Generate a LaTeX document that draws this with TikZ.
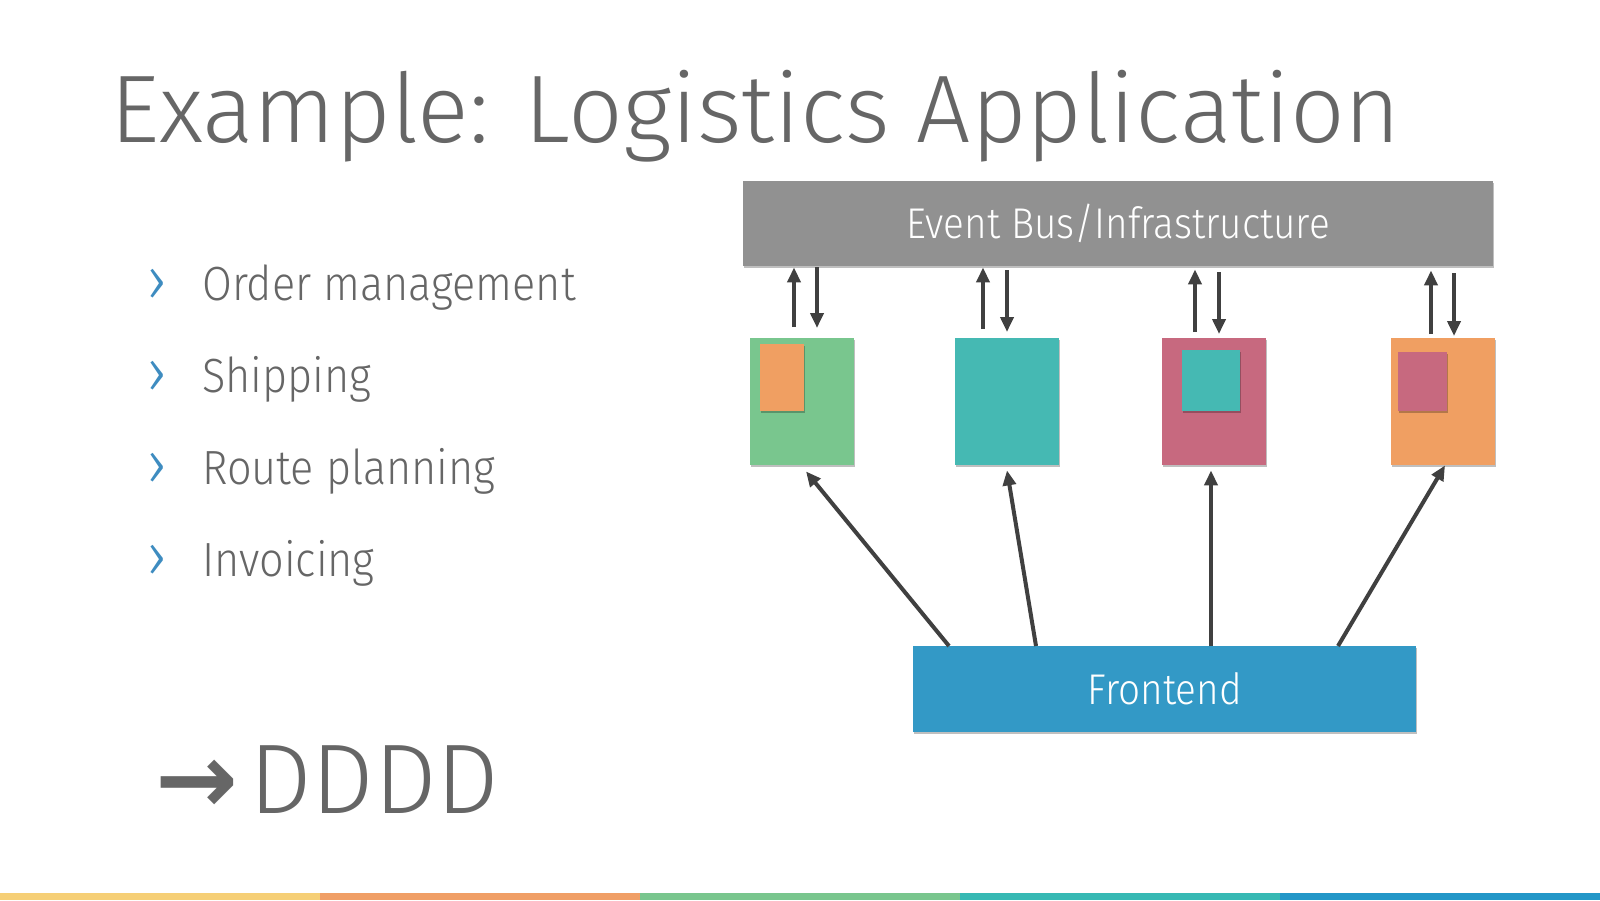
\documentclass[tikz,border=0pt]{standalone}
\usepackage{fontspec}
\setmainfont{Fira Sans}[UprightFont={* Light}]
\newfontfamily\firacond{Fira Sans}[UprightFont={* Light}, FakeStretch=0.9]
\newfontfamily\arrowfont{DejaVu Sans}
\usetikzlibrary{arrows.meta,shadows}
\definecolor{txtgray}{HTML}{666666}
\definecolor{busgray}{HTML}{919191}
\definecolor{cgreen}{HTML}{79C68E}
\definecolor{cteal}{HTML}{45B9B3}
\definecolor{cpink}{HTML}{C7697F}
\definecolor{corange}{HTML}{F09F62}
\definecolor{cblue}{HTML}{3399C6}
\definecolor{arrgray}{HTML}{404040}
\definecolor{bulblue}{HTML}{3E8CC0}
\definecolor{s1}{HTML}{F6CF76}
\definecolor{s2}{HTML}{F09F66}
\definecolor{s3}{HTML}{79C68E}
\definecolor{s4}{HTML}{37B9B4}
\definecolor{s5}{HTML}{2397C8}
\tikzset{
  blk/.style={anchor=north west, inner sep=0pt, draw=none,
    drop shadow={shadow xshift=0.8pt, shadow yshift=-1.5pt, opacity=0.25, fill=black}},
  arr/.style={draw=arrgray, line width=4pt, -{Triangle[length=15pt,width=13pt]}},
  bultxt/.style={anchor=base west, inner sep=0pt, text=txtgray, font=\firacond\fontsize{48}{52}\selectfont},
  bulmark/.style={anchor=center, inner sep=0pt, text=bulblue, font=\fontsize{62}{66}\selectfont},
  boxlabel/.style={text=white, font=\firacond\fontsize{43}{48}\selectfont},
}
\begin{document}
\begin{tikzpicture}[x=1pt,y=-1pt]
\useasboundingbox (0,0) rectangle (1600,900);
% title
\node[anchor=base west, inner sep=0pt, text=txtgray, font=\fontsize{96}{100}\selectfont] (title) at (110,142) {Example: Logistics Application};
% bullets
\node[bulmark] (m1) at (157,285) {›};
\node[bultxt] (t1) at (202,300) {Order management};
\node[bulmark] (m2) at (157,377) {›};
\node[bultxt] (t2) at (202,392) {Shipping};
\node[bulmark] (m3) at (157,469) {›};
\node[bultxt] (t3) at (202,484) {Route planning};
\node[bulmark] (m4) at (157,561) {›};
\node[bultxt] (t4) at (202,576) {Invoicing};
% DDDD
\node[anchor=base west, inner sep=0pt, text=txtgray, font=\fontsize{99}{104}\selectfont] (dddd) at (155,813) {{\arrowfont\bfseries →}\hspace{11pt}DDDD};
% event bus
\node[blk, fill=busgray, minimum width=750pt, minimum height=85pt, boxlabel] (bus) at (743,181) {Event Bus/Infrastructure};
% boxes
\node[blk, fill=cgreen,  minimum width=104pt, minimum height=127pt] (b1) at (750,338) {};
\node[blk, fill=cteal,   minimum width=104pt, minimum height=127pt] (b2) at (955,338) {};
\node[blk, fill=cpink,   minimum width=104pt, minimum height=127pt] (b3) at (1162,338) {};
\node[blk, fill=corange, minimum width=104pt, minimum height=127pt] (b4) at (1391,338) {};
% inner boxes
\node[blk, fill=corange, minimum width=44pt, minimum height=67pt] (i1) at (760,344) {};
\node[blk, fill=cteal,   minimum width=58pt, minimum height=61pt] (i3) at (1182,350) {};
\node[blk, fill=cpink,   minimum width=49pt, minimum height=59pt] (i4) at (1398,352) {};
% frontend
\node[blk, fill=cblue, minimum width=503pt, minimum height=86pt, boxlabel] (fe) at (913,646) {Frontend};
% bus <-> box arrows
\draw[arr] ([xshift=44pt, yshift=11pt]b1.north west) -- ([xshift=51pt, yshift=-1pt]bus.south west);
\draw[arr] ([xshift=74pt, yshift=-1pt]bus.south west) -- ([xshift=67pt, yshift=10pt]b1.north west);
\draw[arr] ([xshift=28pt, yshift=9pt]b2.north west) -- ([xshift=240pt, yshift=-1pt]bus.south west);
\draw[arr] ([xshift=264pt, yshift=-4pt]bus.south west) -- ([xshift=52pt, yshift=6pt]b2.north west);
\draw[arr] ([xshift=33pt, yshift=6pt]b3.north west) -- ([xshift=452pt, yshift=-3pt]bus.south west);
\draw[arr] ([xshift=476pt, yshift=-6pt]bus.south west) -- ([xshift=57pt, yshift=4pt]b3.north west);
\draw[arr] ([xshift=40pt, yshift=4pt]b4.north west) -- ([xshift=688pt, yshift=-4pt]bus.south west);
\draw[arr] ([xshift=711pt, yshift=-7pt]bus.south west) -- ([xshift=63pt, yshift=2pt]b4.north west);
% frontend -> boxes
\draw[arr] ([xshift=36pt]fe.north west) -- ([xshift=56pt, yshift=-6pt]b1.south west);
\draw[arr] ([xshift=123pt]fe.north west) -- ([xshift=52pt, yshift=-5pt]b2.south west);
\draw[arr] ([xshift=298pt]fe.north west) -- ([xshift=49pt, yshift=-5pt]b3.south west);
\draw[arr] ([xshift=425pt]fe.north west) -- ([xshift=54pt, yshift=0pt]b4.south west);
% bottom stripe
\fill[s1] (0,893) rectangle (320,900);
\fill[s2] (320,893) rectangle (640,900);
\fill[s3] (640,893) rectangle (960,900);
\fill[s4] (960,893) rectangle (1280,900);
\fill[s5] (1280,893) rectangle (1600,900);
\end{tikzpicture}
\end{document}
